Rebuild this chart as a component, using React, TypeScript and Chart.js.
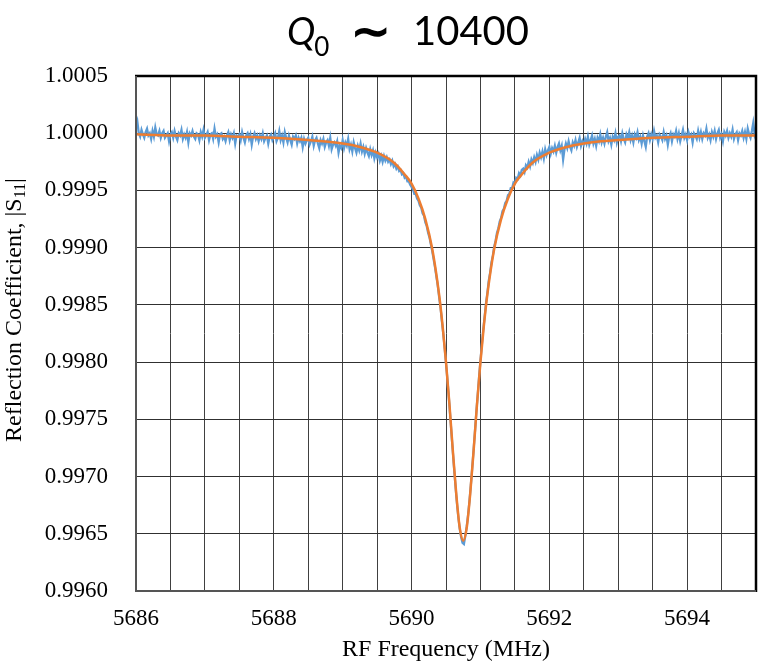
import React, { useEffect, useRef } from "react";
import { Chart, registerables } from "chart.js";

Chart.register(...registerables);

// ---- data ----
const X_TICK_LABELS = [5686, 5688, 5690, 5692, 5694];
const Y_MIN = 0.996;
const Y_MAX = 1.0005;

// Measured |S11| trace: frequency samples start at 5686 MHz, 0.02 MHz apart
const MEAS_START_MHZ = 5686;
const MEAS_STEP_MHZ = 0.02;
const MEAS_S11 = [
  // 5686.00 - 5688.98
  1.00005, 1.0001, 1.0, 0.99997, 1.00003, 0.99999, 0.99996, 1.00001, 1.00004, 0.99998,
  1.0, 0.99995, 1.00002, 0.99997, 1.00005, 0.99999, 0.99998, 1.00002, 0.99996, 1.0,
  1.00002, 0.99996, 0.99998, 1.0, 0.99993, 0.99999, 1.00001, 0.99996, 1.00002, 0.99997,
  0.99994, 1.0, 0.99998, 1.00003, 0.99995, 0.99999, 0.99996, 1.00001, 0.99992, 1.0,
  0.99998, 1.00002, 0.99997, 0.99995, 1.0, 0.99999, 0.99994, 1.00001, 0.99997, 1.00003,
  0.99996, 0.99998, 1.00001, 0.99994, 0.99999, 1.0, 0.99995, 1.00004, 0.99997, 0.99999,
  0.99992, 0.99999, 1.0, 0.99995, 0.99997, 0.99993, 0.99998, 1.00001, 0.99994, 0.99999,
  0.99996, 1.0, 0.99991, 0.99998, 0.99997, 0.99999, 0.99994, 1.00001, 0.99996, 0.99992,
  0.99998, 1.0, 0.99995, 0.99999, 0.9999, 0.99997, 1.0, 0.99995, 0.99998, 0.99993,
  0.99998, 0.99995, 1.0, 0.99993, 0.99996, 0.99998, 0.99991, 0.99997, 0.99999, 0.99994,
  0.99997, 1.0, 0.99993, 0.99996, 1.00002, 0.99994, 0.99998, 0.99992, 1.00001, 0.99996,
  0.99992, 0.99998, 0.99994, 0.9999, 0.99997, 0.99995, 0.99998, 0.99991, 0.99996, 0.99993,
  0.99996, 0.99988, 0.99995, 0.99991, 0.99994, 0.99996, 0.9999, 0.99993, 0.99997, 0.99989,
  0.99994, 0.99996, 0.99991, 0.99987, 0.99994, 0.99991, 0.99995, 0.99988, 0.99992, 0.99994,
  0.99989, 0.99996, 0.99986, 0.9999, 0.99992, 0.99989, 0.99993, 0.99983, 0.99989, 0.99987,
  // 5689.00 - 5689.98
  0.99994, 0.99987, 0.99992, 0.99989, 0.99995, 0.99986, 0.9999, 0.99984, 0.99992, 0.99987,
  0.99983, 0.99989, 0.99985, 0.99991, 0.99984, 0.99988, 0.99982, 0.99987, 0.99983, 0.9998,
  0.99986, 0.99981, 0.99985, 0.99978, 0.99983, 0.99979, 0.99982, 0.99976, 0.9998, 0.99975,
  0.9998, 0.99976, 0.99979, 0.99975, 0.99977, 0.99973, 0.99976, 0.99971, 0.99973, 0.99969,
  0.99971, 0.99967, 0.99968, 0.99964, 0.99965, 0.99961, 0.99962, 0.99958, 0.99958, 0.99955,
  // 5690.00 - 5691.60
  0.99953, 0.99951, 0.99947, 0.99947, 0.99943, 0.99941, 0.99937, 0.99935, 0.9993, 0.99928,
  0.99922, 0.99919, 0.99913, 0.99909, 0.99903, 0.99897, 0.9989, 0.99883, 0.99875, 0.99867,
  0.99857, 0.99848, 0.99836, 0.99825, 0.99813, 0.99799, 0.99785, 0.9977, 0.99754, 0.99737,
  0.99721, 0.99705, 0.9969, 0.99676, 0.99664, 0.99654, 0.99647, 0.99642, 0.99641, 0.99648,
  0.99656, 0.99666, 0.99678, 0.99692, 0.99707, 0.99723, 0.99739, 0.99756, 0.99771, 0.99787,
  0.99801, 0.99815, 0.99828, 0.99839, 0.99851, 0.9986, 0.99871, 0.99878, 0.99887, 0.99893,
  0.99901, 0.99906, 0.99913, 0.99917, 0.99923, 0.99926, 0.99932, 0.99934, 0.99939, 0.99941,
  0.99946, 0.99947, 0.99952, 0.99952, 0.99957, 0.99956, 0.99961, 0.9996, 0.99965, 0.99963,
  0.99968,
  // 5691.62 - 5693.00
  0.99969, 0.99966, 0.99972, 0.9997, 0.99975, 0.99971, 0.99977, 0.99974, 0.99979, 0.99975,
  0.99981, 0.99977, 0.99983, 0.99979, 0.99984, 0.99978, 0.99986, 0.99981, 0.99985, 0.99988,
  0.99982, 0.99987, 0.99984, 0.99989, 0.99983, 0.99988, 0.99991, 0.99985, 0.99989, 0.99977,
  0.99986, 0.99991, 0.99987, 0.99993, 0.99988, 0.99985, 0.99992, 0.99989, 0.99994, 0.99988,
  0.99992, 0.99996, 0.99989, 0.99993, 0.9999, 0.99995, 0.99991, 0.99997, 0.9999, 0.99994,
  0.99998, 0.99991, 0.99995, 0.99989, 0.99996, 0.99993, 0.99999, 0.99992, 0.99996, 0.99991,
  0.99997, 1.00001, 0.99993, 0.99996, 0.9999, 0.99997, 0.99994, 1.0, 0.99992, 0.99997,
  // 5693.02 - 5695.00
  0.99998, 0.99993, 1.0, 0.99995, 0.99992, 0.99999, 0.99996, 1.00001, 0.99994, 0.99998,
  0.99992, 0.99999, 0.99996, 1.00001, 0.99994, 0.99997, 0.99991, 0.99998, 0.99993, 0.99988,
  0.99997, 1.0, 0.99994, 0.99999, 0.99995, 1.00002, 0.99996, 0.99998, 0.99992, 0.99999,
  0.99997, 0.99994, 1.00001, 0.99995, 0.99998, 0.9999, 0.99997, 1.0, 0.99993, 0.99999,
  0.99997, 1.00002, 0.99995, 1.0, 0.99993, 0.99998, 1.00003, 0.99996, 0.99999, 0.99994,
  1.00001, 0.99997, 0.99999, 0.99992, 1.0, 0.99998, 0.99995, 1.00002, 0.99996, 1.00001,
  0.99995, 1.0, 0.99998, 1.00004, 0.99996, 0.99999, 0.99994, 1.00001, 0.99997, 1.00002,
  0.99995, 1.0, 1.00003, 0.99996, 0.99999, 0.99993, 1.00001, 0.99998, 1.00002, 0.99996,
  1.0, 0.99997, 1.00003, 0.99995, 0.99999, 1.00001, 0.99994, 1.0, 0.99998, 1.00002,
  0.99996, 1.00001, 0.99995, 1.00004, 0.99999, 0.99996, 1.00002, 1.00009, 0.99999, 1.00003,
];

// Fitted Lorentzian curve
const FIT_MHZ = [
  5686, 5686.5, 5687, 5687.5, 5688, 5688.5, 5689, 5689.25, 5689.5, 5689.75,
  5689.9, 5690, 5690.1, 5690.2, 5690.3, 5690.4, 5690.45, 5690.5, 5690.55, 5690.6,
  5690.65, 5690.7, 5690.75, 5690.8, 5690.85, 5690.9, 5690.95, 5691, 5691.05, 5691.1,
  5691.2, 5691.3, 5691.4, 5691.5, 5691.6, 5691.75, 5692, 5692.25, 5692.5, 5692.75,
  5693, 5693.5, 5694, 5694.5, 5695,
];
const FIT_S11 = [
  0.99999, 0.99998, 0.99998, 0.99997, 0.99996, 0.99994, 0.99991, 0.99988, 0.99983, 0.99974,
  0.99964, 0.99956, 0.99943, 0.99925, 0.99899, 0.99859, 0.99832, 0.998, 0.99763, 0.99722,
  0.99684, 0.99655, 0.99644, 0.99655, 0.99684, 0.99722, 0.99763, 0.998, 0.99832, 0.99859,
  0.99899, 0.99925, 0.99943, 0.99956, 0.99964, 0.99974, 0.99983, 0.99988, 0.99991, 0.99993,
  0.99994, 0.99996, 0.99997, 0.99998, 0.99998,
];

const TITLE_Q = "Q";
const TITLE_SUB = "0";
const TITLE_TILDE = "\u223C";
const TITLE_VALUE = "10400";
const Y_TITLE_MAIN = "Reflection Coefficient, |S";
const Y_TITLE_SUB = "11";
const Y_TITLE_END = "|";
const X_TITLE = "RF Frequency (MHz)";

const SERIF = '"Liberation Serif", "Times New Roman", serif';
const SANS = 'Lato, "Open Sans", sans-serif';

const textPlugin = {
  id: "customText",
  afterDraw(chart: any) {
    const ctx: CanvasRenderingContext2D = chart.ctx;
    const { left, right, top, bottom } = chart.chartArea;
    ctx.save();
    // frame
    ctx.strokeStyle = "#000";
    ctx.lineWidth = 2.5;
    ctx.beginPath();
    ctx.moveTo(left - 1, top);
    ctx.lineTo(right, top);
    ctx.lineTo(right, bottom + 1);
    ctx.stroke();
    ctx.strokeStyle = "#555";
    ctx.lineWidth = 2;
    ctx.beginPath();
    ctx.moveTo(left, top);
    ctx.lineTo(left, bottom);
    ctx.lineTo(right, bottom);
    ctx.stroke();

    // main title
    ctx.fillStyle = "#000";
    ctx.textAlign = "left";
    ctx.textBaseline = "alphabetic";
    ctx.font = `italic 38px ${SANS}`;
    ctx.fillText(TITLE_Q, 287, 45);
    const qw = ctx.measureText(TITLE_Q).width;
    ctx.font = `26px ${SANS}`;
    ctx.fillText(TITLE_SUB, 287 + qw - 1, 56);
    ctx.font = `bold 50px "DejaVu Sans", sans-serif`;
    const tw = ctx.measureText(TITLE_TILDE).width;
    ctx.fillText(TITLE_TILDE, 371 - tw / 2, 48);
    ctx.font = `40px ${SANS}`;
    ctx.fillText(TITLE_VALUE, 413, 45);

    // y axis title with subscript
    ctx.translate(20.5, 310);
    ctx.rotate(-Math.PI / 2);
    ctx.font = `24px ${SERIF}`;
    const w1 = ctx.measureText(Y_TITLE_MAIN).width;
    const w3 = ctx.measureText(Y_TITLE_END).width;
    ctx.font = `16px ${SERIF}`;
    const w2 = ctx.measureText(Y_TITLE_SUB).width;
    const start = -(w1 + w2 + w3) / 2;
    ctx.font = `24px ${SERIF}`;
    ctx.fillText(Y_TITLE_MAIN, start, 0);
    ctx.font = `16px ${SERIF}`;
    ctx.fillText(Y_TITLE_SUB, start + w1, 4);
    ctx.font = `24px ${SERIF}`;
    ctx.fillText(Y_TITLE_END, start + w1 + w2, 0);
    ctx.restore();
  },
};

export default function App() {
  const ref = useRef<HTMLCanvasElement | null>(null);

  useEffect(() => {
    document.body.style.margin = "0";
    if (!ref.current) return;
    const chart = new Chart(ref.current, {
      type: "line",
      data: {
        datasets: [
          {
            label: "Fit",
            data: FIT_MHZ.map((x, i) => ({ x, y: FIT_S11[i] })),
            borderColor: "#ED7D31",
            borderWidth: 2.5,
            pointRadius: 0,
            cubicInterpolationMode: "monotone",
            fill: false,
          },
          {
            label: "Measured",
            data: MEAS_S11.map((y, i) => ({ x: MEAS_START_MHZ + i * MEAS_STEP_MHZ, y })),
            borderColor: "#5B9BD5",
            borderWidth: 2.25,
            pointRadius: 0,
            tension: 0,
            fill: false,
          },
        ],
      },
      options: {
        responsive: false,
        animation: false,
        devicePixelRatio: 1,
        layout: { padding: { left: 0, right: 5, top: 76, bottom: 0 } },
        plugins: {
          legend: { display: false },
          tooltip: { enabled: false },
          title: { display: false },
        },
        scales: {
          x: {
            type: "linear",
            min: 5686,
            max: 5695,
            afterFit: (s: any) => {
              s.height = 79;
              s.paddingLeft = 0;
              s.paddingRight = 0;
            },
            ticks: {
              stepSize: 0.5,
              autoSkip: false,
              maxRotation: 0,
              padding: 14,
              color: "#000",
              font: { family: SERIF, size: 23 },
              callback: (v: any) => (X_TICK_LABELS.includes(Number(v)) ? String(v) : ""),
            },
            grid: { color: "#404040", lineWidth: 1, drawTicks: false },
            border: { display: false },
            title: {
              display: true,
              text: X_TITLE,
              color: "#000",
              font: { family: SERIF, size: 24 },
              padding: { top: 0, bottom: 6 },
            },
          },
          y: {
            type: "linear",
            min: Y_MIN,
            max: Y_MAX,
            afterFit: (s: any) => {
              s.width = 136;
            },
            ticks: {
              stepSize: 0.0005,
              padding: 28,
              color: "#000",
              font: { family: SERIF, size: 23 },
              callback: (v: any) => Number(v).toFixed(4),
            },
            grid: { color: "#303030", lineWidth: 1, drawTicks: false },
            border: { display: false },
          },
        },
      },
      plugins: [textPlugin],
    });
    return () => chart.destroy();
  }, []);

  return (
    <div style={{ width: 761, height: 670 }}>
      <canvas ref={ref} width={761} height={670} />
    </div>
  );
}
